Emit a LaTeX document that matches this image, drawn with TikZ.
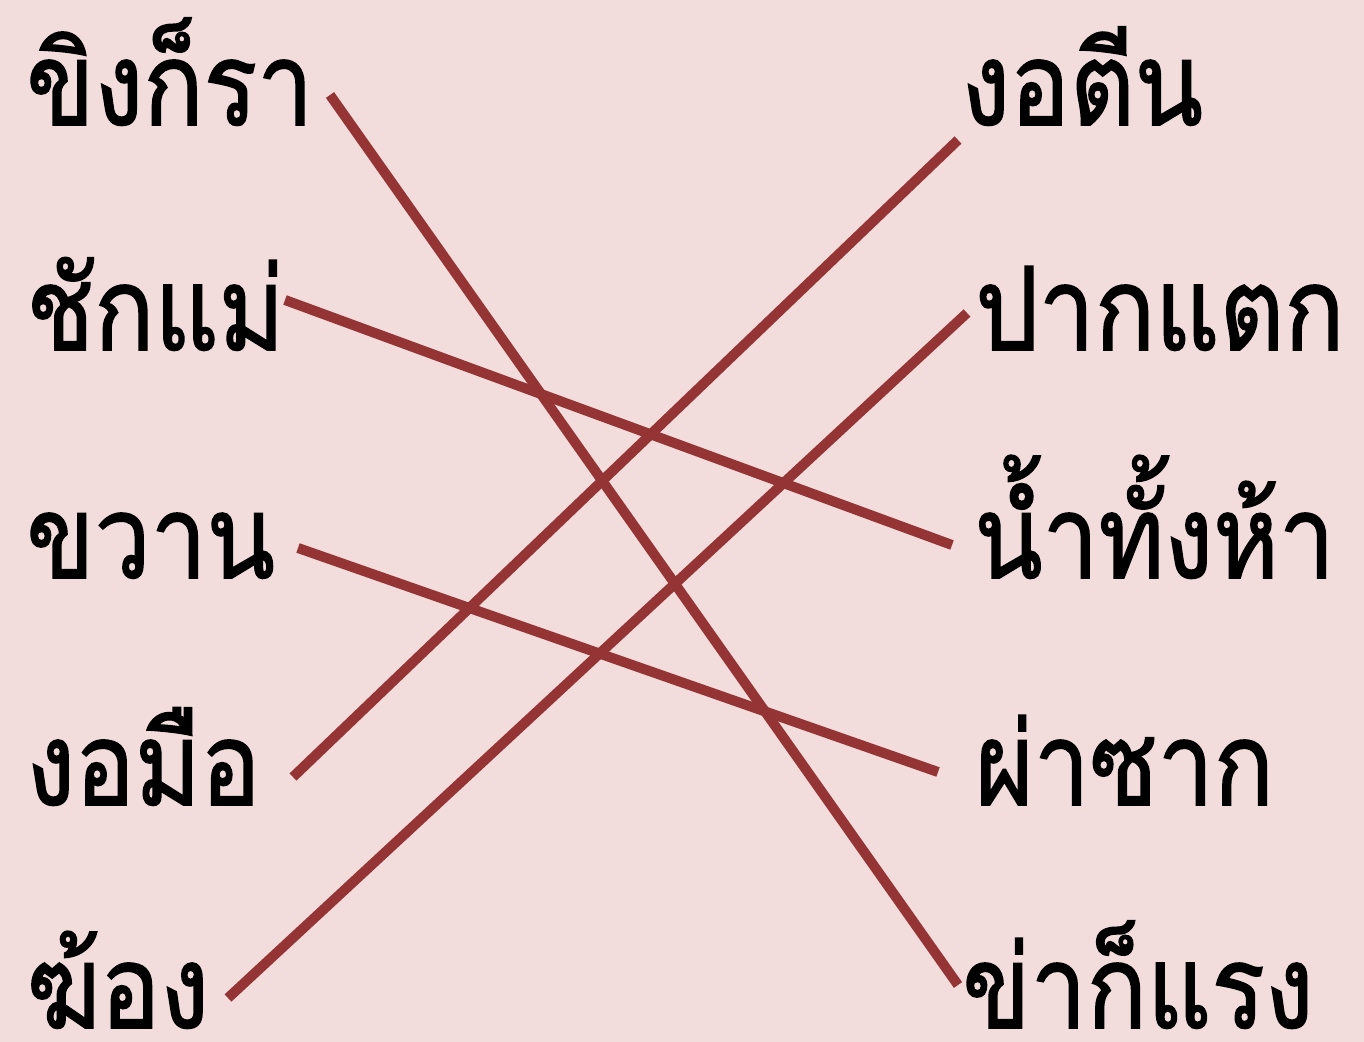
\documentclass[tikz,border=0pt]{standalone}
\usepackage{fontspec}
\newfontfamily\thaifont[Script=Thai, FakeStretch=0.86, FakeBold=1.3]{Loma}
\usepackage{tikz}
\definecolor{paper}{RGB}{242,220,220}
\definecolor{linkred}{RGB}{148,52,52}

\begin{document}
\begin{tikzpicture}[x=0.5pt, y=-0.5pt,
    word/.style={inner sep=0pt, font=\thaifont\fontsize{58}{64}\selectfont},
    link/.style={linkred, line width=5pt}]
    \fill[paper] (0,0) rectangle (1364,1042);
    \useasboundingbox (0,0) rectangle (1364,1042);

    % Nodes
    \node[word, anchor=base west] (khing) at (26,125) {ขิงก็รา};
    \node[word, anchor=base west] (chak) at (26,350) {ชักแม่};
    \node[word, anchor=base west] (khwan) at (26,578) {ขวาน};
    \node[word, anchor=base west] (ngomue) at (26,805) {งอมือ};
    \node[word, anchor=base west] (khong) at (26,1028) {ฆ้อง};

    \node[word, anchor=base west] (ngotin) at (961,125) {งอตีน};
    \node[word, anchor=base west] (pak) at (975,350) {ปากแตก};
    \node[word, anchor=base west] (nam) at (974,578) {น้ำทั้งห้า};
    \node[word, anchor=base west] (pha) at (975,805) {ผ่าซาก};
    \node[word, anchor=base west] (kha) at (962,1028) {ข่าก็แรง};

    % line ends
    \coordinate (khing-r) at (330,95);
    \coordinate (chak-r) at (285,300);
    \coordinate (khwan-r) at (298,548);
    \coordinate (ngomue-r) at (293,777);
    \coordinate (khong-r) at (228,998);
    \coordinate (ngotin-l) at (958,140);
    \coordinate (pak-l) at (967,313);
    \coordinate (nam-l) at (952,545);
    \coordinate (pha-l) at (938,772);
    \coordinate (kha-l) at (958,985);

    % Edges
    \draw[link] (khing-r) -- (kha-l);
    \draw[link] (chak-r) -- (nam-l);
    \draw[link] (khwan-r) -- (pha-l);
    \draw[link] (ngomue-r) -- (ngotin-l);
    \draw[link] (khong-r) -- (pak-l);
\end{tikzpicture}
\end{document}
